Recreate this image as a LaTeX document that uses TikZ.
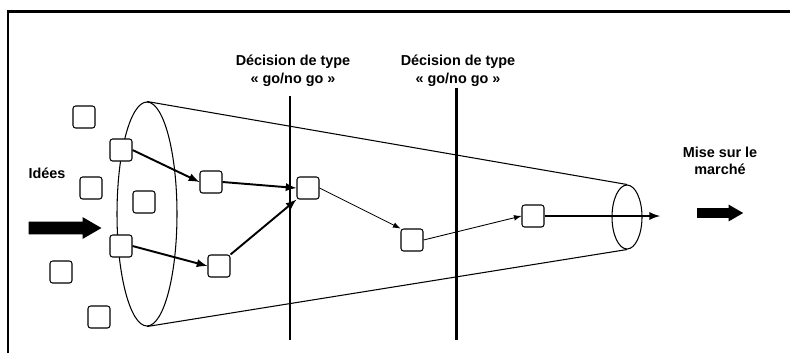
\documentclass[tikz,border=0pt]{standalone}
\usepackage{fontspec}
\setmainfont{Liberation Sans}
\usetikzlibrary{shapes,arrows}

\tikzset{
  idea/.style={draw, fill=white, rounded corners=1.5pt, minimum size=0.44cm, inner sep=0pt, line width=0.6pt},
  flow/.style={-latex, line width=1.1pt},
  thinflow/.style={-latex, line width=0.5pt},
  gate/.style={line width=1.7pt},
  lbl/.style={font=\bfseries\fontsize{8.2}{10}\selectfont, align=center, inner sep=0pt},
  bigarrow/.style={single arrow, fill=black, inner xsep=0pt, single arrow tip angle=60}
}

\begin{document}
\begin{tikzpicture}[x=0.02cm, y=-0.02cm]
\useasboundingbox (0,0) rectangle (790,353);

% frame
\coordinate (fbl) at (8,353);
\coordinate (ftl) at (8,11);
\coordinate (ftr) at (790,11);
\draw [gate] (fbl) -- (ftl) -- (ftr);

% funnel
\node [ellipse, draw, line width=0.6pt, minimum width=1.2cm, minimum height=4.48cm, inner sep=0pt] (mouth) at (147,214) {};
\node [ellipse, draw, line width=0.6pt, minimum width=0.6cm, minimum height=1.28cm, inner sep=0pt] (exit) at (627,217) {};
\draw [line width=0.6pt]
(mouth.north) -- (exit.north)
(mouth.south) -- (exit.south);

% go / no go gates
\coordinate (g1top) at (290,96);
\coordinate (g1bot) at (290,340);
\coordinate (g2top) at (456,88);
\coordinate (g2bot) at (456,340);
\draw [gate] (g1top) -- (g1bot);
\draw [gate] (g2top) -- (g2bot);
\node [lbl] (dec1) at (293,71) {Décision de type\\« go/no go »};
\node [lbl] (dec2) at (458,71) {Décision de type\\« go/no go »};

% ideas
\node [lbl] (ideas) at (47,173) {Idées};
\node [bigarrow, minimum height=1.46cm, inner ysep=0.12cm, single arrow head extend=0.09cm] (arrIn) at (59.5,228) {};
\node [idea] (free1) at (84,117) {};
\node [idea] (free2) at (91,188) {};
\node [idea] (free3) at (144,202) {};
\node [idea] (free4) at (61,272) {};
\node [idea] (free5) at (99,317) {};

% projects
\node [idea] (a1) at (121,150) {};
\node [idea] (b1) at (121,246) {};
\node [idea] (m1) at (211,182) {};
\node [idea] (m2) at (219,266) {};
\node [idea] (d1) at (308,188) {};
\node [idea] (s2) at (412,240) {};
\node [idea] (r1) at (533,216) {};
\coordinate (launch) at (660,216);
\draw [flow] (a1.east) -- (m1.west);
\draw [flow] (m1.east) -- (d1.west);
\draw [flow] (b1.east) -- (m2.west);
\draw [flow] (m2.north east) -- (d1.south west);
\draw [thinflow] (d1.east) -- (s2.north west);
\draw [thinflow] (s2.east) -- (r1.west);
\draw [flow] (r1.east) -- (launch);

% market
\node [lbl] (market) at (720,161) {Mise sur le\\marché};
\node [bigarrow, minimum height=0.92cm, inner ysep=0.09cm, single arrow head extend=0.07cm] (arrOut) at (716,213) {};
\end{tikzpicture}
\end{document}
